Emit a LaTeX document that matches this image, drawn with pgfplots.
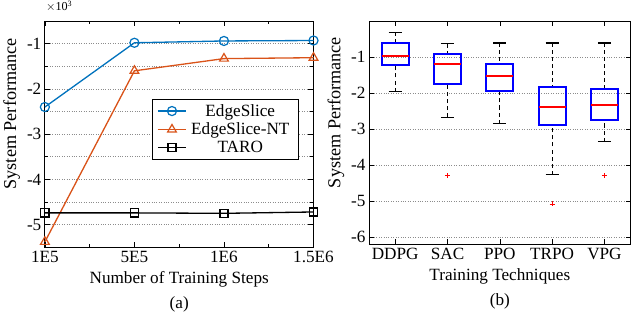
\documentclass[border=0pt]{standalone}
\usepackage{fontspec}
\setmainfont{Liberation Serif}
\usepackage{pgfplots}
\pgfplotsset{compat=1.18}
\usepgfplotslibrary{statistics}
\definecolor{mblue}{RGB}{0,114,189}
\definecolor{morange}{RGB}{217,83,25}
\begin{document}
\begin{tikzpicture}
\pgfplotsset{
  every axis/.append style={
    scale only axis,
    font=\fontsize{17}{20}\selectfont,
    /pgf/number format/assume math mode=true,
    tick align=inside,
    tick style={black, line width=0.6pt},
    major tick length=5pt, minor tick length=3pt,
    axis line style={line width=0.8pt},
    major grid style={black!45, dotted, line width=0.6pt},
    minor grid style={black!45, dotted, line width=0.6pt},
    xlabel style={align=center, font=\fontsize{17}{25}\selectfont, yshift=-2pt},
    ylabel style={font=\fontsize{18}{20}\selectfont, at={(ticklabel cs:0.59)}},
  }
}
\begin{axis}[
  anchor=north west, at={(0pt,0pt)},
  width=266pt, height=224pt,
  xmin=0, xmax=3, ymin=-5.5, ymax=-0.5,
  xtick={0,1,2,3}, xticklabels={1E5,5E5,1E6,1.5E6},
  minor xtick={0.5,1.5,2.5},
  ytick={-5,-4,-3,-2,-1},
  minor ytick={-5.5,-4.5,-3.5,-2.5,-1.5},
  ymajorgrids, yminorgrids,
  xlabel={Number of Training Steps\\(a)},
  ylabel={System Performance},
  legend style={at={(rel axis cs:0.947,0.656)}, anchor=north east, draw=black, line width=0.8pt, font=\fontsize{17}{20}\selectfont, row sep=1pt, inner ysep=3pt, inner xsep=5pt},
  legend image code/.code={\draw[mark repeat=2, mark phase=2] plot coordinates {(0pt,0pt) (14pt,0pt) (28pt,0pt)};},
  legend cell align=center,
  clip=false,
]
\addplot[mblue, line width=1.3pt, mark=o, mark size=4.5pt, mark options={solid, line width=1.2pt}] coordinates {(0,-2.4) (1,-0.98) (2,-0.94) (3,-0.93)};
\addlegendentry{\makebox[102pt]{EdgeSlice}}
\addplot[morange, line width=1.3pt, mark=triangle, mark size=5pt, mark options={solid, line width=1.2pt}] coordinates {(0,-5.38) (1,-1.6) (2,-1.33) (3,-1.31)};
\addlegendentry{\makebox[102pt]{EdgeSlice-NT}}
\addplot[black, line width=1.3pt, mark=square, mark size=4pt, mark options={solid, line width=1.2pt}] coordinates {(0,-4.74) (1,-4.74) (2,-4.75) (3,-4.72)};
\addlegendentry{\makebox[102pt]{TARO}}
\node[anchor=south west, inner sep=1pt, yshift=8pt, font=\fontsize{12}{12}\selectfont] at (rel axis cs:0,1) {$\times$10\textsuperscript{3}};
\end{axis}
\begin{axis}[
  anchor=north west, at={(321pt,0pt)},
  width=259pt, height=221pt,
  xmin=0.5, xmax=5.5, ymin=-6.2, ymax=0,
  xtick={1,2,3,4,5}, xticklabels={DDPG,SAC,PPO,TRPO,VPG},
  ytick={-6,-5,-4,-3,-2,-1},
  ymajorgrids,
  xlabel={Training Techniques\\(b)},
  ylabel={System Performance},
  boxplot/draw direction=y,
  boxplot/box extend=0.52, boxplot/whisker extend=0.25,
  boxplot/every box/.style={draw=blue, line width=2pt},
  boxplot/every median/.style={draw=red, line width=2pt},
  boxplot/draw/lower whisker/.code={
    \draw[black, dash pattern=on 4pt off 3pt, line width=1.2pt] (boxplot cs:\pgfplotsboxplotvalue{lower whisker}) -- (boxplot cs:\pgfplotsboxplotvalue{lower quartile});
    \draw[black, solid, line width=1.2pt] (boxplot whisker cs:\pgfplotsboxplotvalue{lower whisker},0) -- (boxplot whisker cs:\pgfplotsboxplotvalue{lower whisker},1);
  },
  boxplot/draw/upper whisker/.code={
    \draw[black, dash pattern=on 4pt off 3pt, line width=1.2pt] (boxplot cs:\pgfplotsboxplotvalue{upper whisker}) -- (boxplot cs:\pgfplotsboxplotvalue{upper quartile});
    \draw[black, solid, line width=1.2pt] (boxplot whisker cs:\pgfplotsboxplotvalue{upper whisker},0) -- (boxplot whisker cs:\pgfplotsboxplotvalue{upper whisker},1);
  },
  every axis plot/.append style={line width=2pt, mark=+, mark size=2.5pt, mark options={red, solid, line width=0.8pt}},
]
\addplot[boxplot prepared={draw position=1, lower whisker=-1.96, lower quartile=-1.22, median=-0.97, upper quartile=-0.60, upper whisker=-0.31}] coordinates {};
\addplot[boxplot prepared={draw position=2, lower whisker=-2.67, lower quartile=-1.74, median=-1.20, upper quartile=-0.91, upper whisker=-0.63}] coordinates {(2,-4.30)};
\addplot[boxplot prepared={draw position=3, lower whisker=-2.85, lower quartile=-1.93, median=-1.53, upper quartile=-1.19, upper whisker=-0.61}] coordinates {};
\addplot[boxplot prepared={draw position=4, lower whisker=-4.27, lower quartile=-2.90, median=-2.40, upper quartile=-1.84, upper whisker=-0.61}] coordinates {(4,-5.08)};
\addplot[boxplot prepared={draw position=5, lower whisker=-3.35, lower quartile=-2.75, median=-2.32, upper quartile=-1.90, upper whisker=-0.61}] coordinates {(5,-4.30)};
\node[anchor=south west, inner sep=1pt, yshift=8pt, font=\fontsize{12}{12}\selectfont] at (rel axis cs:0,1) {$\times$10\textsuperscript{4}};
\end{axis}
\end{tikzpicture}
\end{document}
